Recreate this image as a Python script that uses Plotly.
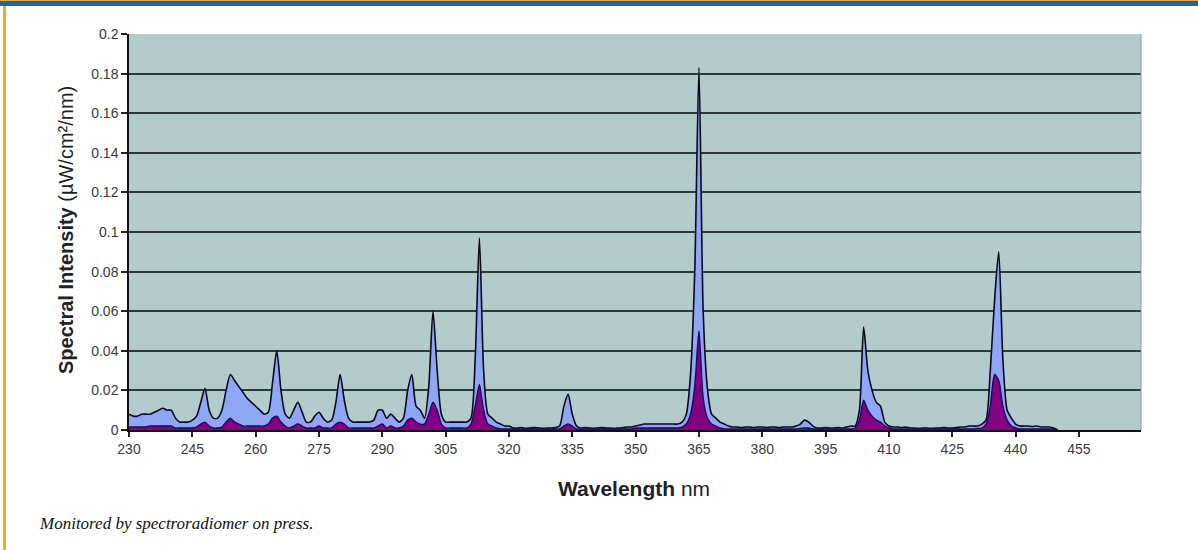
import plotly.graph_objects as go

# Wavelength grid (nm), 1 nm steps
wavelength = list(range(230, 451))

# Outer (light-blue) spectrum, uW/cm2/nm ... rows of 10 nm
blue_230 = [0.008, 0.007, 0.007, 0.008, 0.008, 0.008, 0.009, 0.010, 0.011, 0.010]
blue_240 = [0.010, 0.006, 0.004, 0.004, 0.004, 0.005, 0.007, 0.014, 0.021, 0.010]
blue_250 = [0.006, 0.006, 0.010, 0.020, 0.028, 0.025, 0.022, 0.019, 0.016, 0.014]
blue_260 = [0.012, 0.010, 0.008, 0.009, 0.024, 0.040, 0.020, 0.008, 0.006, 0.010]
blue_270 = [0.014, 0.009, 0.004, 0.004, 0.007, 0.009, 0.006, 0.004, 0.005, 0.014]
blue_280 = [0.028, 0.015, 0.006, 0.004, 0.004, 0.004, 0.004, 0.004, 0.005, 0.010]
blue_290 = [0.010, 0.006, 0.008, 0.006, 0.004, 0.006, 0.020, 0.028, 0.012, 0.010]
blue_300 = [0.006, 0.022, 0.060, 0.030, 0.008, 0.004, 0.004, 0.004, 0.004, 0.004]
blue_310 = [0.004, 0.006, 0.036, 0.097, 0.030, 0.008, 0.006, 0.004, 0.003, 0.002]
blue_320 = [0.002, 0.001, 0.001, 0.0012, 0.0008, 0.001, 0.0012, 0.001, 0.0008, 0.001]
blue_330 = [0.001, 0.0012, 0.002, 0.012, 0.018, 0.008, 0.002, 0.001, 0.0012, 0.001]
blue_340 = [0.0008, 0.001, 0.0012, 0.001, 0.001, 0.0008, 0.001, 0.0012, 0.0015, 0.0015]
blue_350 = [0.002, 0.0025, 0.003, 0.003, 0.003, 0.003, 0.003, 0.003, 0.003, 0.003]
blue_360 = [0.003, 0.004, 0.008, 0.028, 0.080, 0.183, 0.060, 0.021, 0.008, 0.006]
blue_370 = [0.004, 0.003, 0.002, 0.0015, 0.0015, 0.0012, 0.0015, 0.0015, 0.0012, 0.0015]
blue_380 = [0.0015, 0.0012, 0.0015, 0.0015, 0.0012, 0.0015, 0.0015, 0.0015, 0.002, 0.003]
blue_390 = [0.005, 0.004, 0.002, 0.001, 0.001, 0.0012, 0.001, 0.001, 0.0012, 0.001]
blue_400 = [0.0015, 0.002, 0.002, 0.010, 0.052, 0.030, 0.020, 0.014, 0.012, 0.004]
blue_410 = [0.002, 0.0015, 0.0015, 0.0012, 0.0015, 0.001, 0.001, 0.0008, 0.001, 0.001]
blue_420 = [0.0008, 0.001, 0.001, 0.0012, 0.001, 0.001, 0.0012, 0.0015, 0.0015, 0.002]
blue_430 = [0.002, 0.002, 0.003, 0.005, 0.030, 0.065, 0.090, 0.035, 0.010, 0.006]
blue_440 = [0.003, 0.002, 0.002, 0.002, 0.0018, 0.002, 0.0015, 0.0015, 0.0015, 0.001]
blue_450 = [0.0]

# Inner (purple) spectrum
purple_230 = [0.0015, 0.0015, 0.0015, 0.0015, 0.0015, 0.002, 0.002, 0.002, 0.002, 0.002]
purple_240 = [0.002, 0.001, 0.001, 0.001, 0.001, 0.001, 0.0015, 0.003, 0.004, 0.002]
purple_250 = [0.001, 0.001, 0.0015, 0.004, 0.006, 0.004, 0.003, 0.002, 0.002, 0.002]
purple_260 = [0.002, 0.002, 0.002, 0.003, 0.006, 0.007, 0.004, 0.002, 0.001, 0.002]
purple_270 = [0.003, 0.002, 0.001, 0.001, 0.001, 0.002, 0.001, 0.001, 0.001, 0.003]
purple_280 = [0.004, 0.003, 0.001, 0.001, 0.001, 0.001, 0.001, 0.001, 0.001, 0.002]
purple_290 = [0.003, 0.001, 0.002, 0.001, 0.001, 0.002, 0.005, 0.006, 0.004, 0.003]
purple_300 = [0.003, 0.008, 0.014, 0.010, 0.003, 0.001, 0.001, 0.001, 0.001, 0.001]
purple_310 = [0.001, 0.003, 0.012, 0.023, 0.010, 0.003, 0.002, 0.001, 0.0005, 0.0005]
purple_320 = [0.0005, 0.0005, 0.0005, 0.0005, 0.0005, 0.0005, 0.0005, 0.0005, 0.0005, 0.0005]
purple_330 = [0.0005, 0.0005, 0.0005, 0.002, 0.003, 0.002, 0.0005, 0.0005, 0.0005, 0.0005]
purple_340 = [0.0005, 0.0005, 0.0005, 0.0005, 0.0005, 0.0005, 0.0005, 0.0005, 0.0005, 0.0005]
purple_350 = [0.001, 0.001, 0.001, 0.001, 0.001, 0.001, 0.001, 0.001, 0.001, 0.001]
purple_360 = [0.001, 0.0015, 0.003, 0.008, 0.022, 0.050, 0.016, 0.006, 0.003, 0.002]
purple_370 = [0.001, 0.0005, 0.0005, 0.0005, 0.0005, 0.0005, 0.0005, 0.0005, 0.0005, 0.0005]
purple_380 = [0.0005, 0.0005, 0.0005, 0.0005, 0.0005, 0.0005, 0.0005, 0.0005, 0.0005, 0.0008]
purple_390 = [0.001, 0.001, 0.0005, 0.0005, 0.0005, 0.0005, 0.0005, 0.0005, 0.0005, 0.0005]
purple_400 = [0.0005, 0.0005, 0.001, 0.005, 0.015, 0.010, 0.007, 0.005, 0.004, 0.002]
purple_410 = [0.001, 0.0005, 0.0005, 0.0005, 0.0005, 0.0005, 0.0005, 0.0005, 0.0005, 0.0005]
purple_420 = [0.0005, 0.0005, 0.0005, 0.0005, 0.0005, 0.0005, 0.0005, 0.0005, 0.0005, 0.0005]
purple_430 = [0.0005, 0.0008, 0.001, 0.003, 0.012, 0.028, 0.025, 0.012, 0.005, 0.002]
purple_440 = [0.001, 0.0005, 0.0005, 0.0005, 0.0005, 0.0005, 0.0005, 0.0005, 0.0005, 0.0005]
purple_450 = [0.0]

blue_values = (blue_230 + blue_240 + blue_250 + blue_260 + blue_270 + blue_280 + blue_290
               + blue_300 + blue_310 + blue_320 + blue_330 + blue_340 + blue_350 + blue_360
               + blue_370 + blue_380 + blue_390 + blue_400 + blue_410 + blue_420 + blue_430
               + blue_440 + blue_450)
purple_values = (purple_230 + purple_240 + purple_250 + purple_260 + purple_270 + purple_280
                 + purple_290 + purple_300 + purple_310 + purple_320 + purple_330 + purple_340
                 + purple_350 + purple_360 + purple_370 + purple_380 + purple_390 + purple_400
                 + purple_410 + purple_420 + purple_430 + purple_440 + purple_450)

x_tick_vals = [230, 245, 260, 275, 290, 305, 320, 335, 350, 365, 380, 395, 410, 425, 440, 455]
y_tick_vals = [0, 0.02, 0.04, 0.06, 0.08, 0.1, 0.12, 0.14, 0.16, 0.18, 0.2]
y_tick_text = ["0", "0.02", "0.04", "0.06", "0.08", "0.1", "0.12", "0.14", "0.16", "0.18", "0.2"]

x_title = "<b>Wavelength</b> nm"
y_title = "<b>Spectral Intensity</b> (µW/cm²/nm)"
caption = "Monitored by spectroradiomer on press."

fig = go.Figure()
fig.add_trace(go.Scatter(
    x=wavelength, y=blue_values, mode="lines", fill="tozeroy",
    fillcolor="#8fa5f6", line=dict(color="#0a0a1a", width=1.6, shape="spline", smoothing=0.7),
    hoverinfo="skip",
))
fig.add_trace(go.Scatter(
    x=wavelength, y=purple_values, mode="lines", fill="tozeroy",
    fillcolor="#820082", line=dict(color="#10105a", width=1.4, shape="spline", smoothing=0.7),
    hoverinfo="skip",
))

# Pixel -> paper helpers for layout decorations
L, R, T, B = 129, 1141, 34, 430
W, H = R - L, B - T


def px(xp):
    return (xp - L) / W


def py(yp):
    return (B - yp) / H


tick_font = dict(family="Liberation Sans, Arial, sans-serif", size=14, color="#3a3a3a")

fig.update_layout(
    width=1198, height=550,
    margin=dict(l=L, r=1198 - R, t=T, b=550 - B),
    paper_bgcolor="white",
    plot_bgcolor="#b4cbcb",
    showlegend=False,
    xaxis=dict(
        range=[230, 469.7], tickvals=x_tick_vals, ticks="outside", ticklen=5,
        tickcolor="#222", tickwidth=1.5, showgrid=False, zeroline=False,
        showline=True, linecolor="#111", linewidth=2, tickfont=tick_font,
    ),
    yaxis=dict(
        range=[0, 0.2], tickvals=y_tick_vals, ticktext=y_tick_text, ticks="outside",
        ticklen=6, tickcolor="#222", tickwidth=1.5, showgrid=True,
        gridcolor="#2d3838", gridwidth=2, zeroline=False, showline=True,
        linecolor="#111", linewidth=1.5, tickfont=tick_font,
    ),
    shapes=[
        dict(type="rect", xref="paper", yref="paper", x0=px(0), x1=px(1198),
             y0=py(6), y1=py(0), fillcolor="#2b5ea8", line=dict(width=0), layer="above"),
        dict(type="rect", xref="paper", yref="paper", x0=px(0), x1=px(1198),
             y0=py(1), y1=py(0), fillcolor="#f4a62a", line=dict(width=0), layer="above"),
        dict(type="rect", xref="paper", yref="paper", x0=px(3), x1=px(6),
             y0=py(550), y1=py(6), fillcolor="#f4a62a", line=dict(width=0), layer="above"),
        dict(type="line", xref="paper", yref="paper", x0=1, x1=1, y0=0, y1=1,
             line=dict(color="#8a9a9a", width=1), layer="above"),
    ],
    annotations=[
        dict(text=x_title, xref="paper", yref="paper", x=px(634), y=py(488),
             xanchor="center", yanchor="middle", showarrow=False,
             font=dict(family="Liberation Sans, Arial, sans-serif", size=21, color="#222")),
        dict(text=y_title, xref="paper", yref="paper", x=px(66), y=py(230),
             xanchor="center", yanchor="middle", showarrow=False, textangle=-90,
             font=dict(family="Liberation Sans, Arial, sans-serif", size=20, color="#222")),
        dict(text="<i>" + caption + "</i>", xref="paper", yref="paper", x=px(37), y=py(523),
             xanchor="left", yanchor="middle", showarrow=False,
             font=dict(family="Liberation Serif, Times New Roman, serif", size=17, color="#111")),
    ],
)

fig.write_html("out.html", config={"displayModeBar": False},
               post_script="document.body.style.margin='0';")
